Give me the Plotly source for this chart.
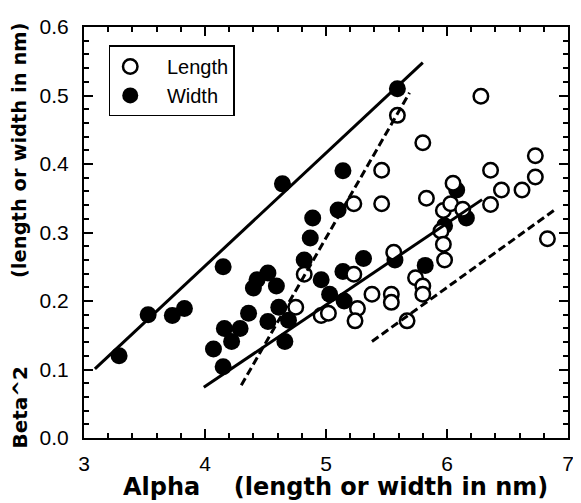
import plotly.graph_objects as go

# Width (filled circles)
width_x = [3.29, 3.53, 3.73, 3.83, 4.07, 4.15, 4.15, 4.16, 4.22, 4.29, 4.36, 4.40,
           4.43, 4.52, 4.59, 4.52, 4.61, 4.69, 4.66, 4.64, 4.82, 4.87, 4.89, 4.96,
           5.03, 5.10, 5.14, 5.14, 5.15, 5.31, 5.57, 5.59, 5.82, 5.98, 6.08, 6.16]
width_y = [0.120, 0.180, 0.179, 0.189, 0.130, 0.104, 0.250, 0.160, 0.141, 0.160, 0.182, 0.219,
           0.231, 0.241, 0.222, 0.170, 0.191, 0.172, 0.141, 0.371, 0.260, 0.292, 0.321, 0.231,
           0.210, 0.333, 0.390, 0.243, 0.200, 0.262, 0.260, 0.510, 0.252, 0.310, 0.362, 0.321]

# Length (open circles)
length_x = [4.75, 4.82, 4.96, 5.02, 5.23, 5.26, 5.24, 5.23, 5.38, 5.46, 5.46, 5.54,
            5.54, 5.56, 5.59, 5.67, 5.74, 5.80, 5.80, 5.80, 5.83, 5.95, 5.97, 5.98,
            5.97, 6.03, 6.05, 6.13, 6.28, 6.36, 6.36, 6.45, 6.62, 6.73, 6.73, 6.83]
length_y = [0.191, 0.239, 0.179, 0.182, 0.239, 0.189, 0.171, 0.342, 0.210, 0.391, 0.342, 0.210,
            0.198, 0.271, 0.471, 0.171, 0.234, 0.222, 0.210, 0.431, 0.350, 0.302, 0.283, 0.260,
            0.332, 0.342, 0.372, 0.334, 0.499, 0.391, 0.341, 0.362, 0.362, 0.412, 0.381, 0.291]

# Fitted lines (endpoints)
width_fit_x = [3.09, 5.80]
width_fit_y = [0.101, 0.548]
length_fit_x = [3.99, 6.29]
length_fit_y = [0.074, 0.348]
steep_dash_x = [4.30, 5.69]
steep_dash_y = [0.077, 0.504]
low_dash_x = [5.38, 6.89]
low_dash_y = [0.141, 0.333]

# Axes
x_range = [3, 7]
y_range = [0, 0.6]
x_tickvals = [3, 4, 5, 6, 7]
x_ticktext = ["3", "4", "5", "6", "7"]
y_tickvals = [0.0, 0.1, 0.2, 0.3, 0.4, 0.5, 0.6]
y_ticktext = ["0.0", "0.1", "0.2", "0.3", "0.4", "0.5", "0.6"]
x_minor_step = 0.2
y_minor_step = 0.02

# Text
x_title = "Alpha\u00a0\u00a0\u00a0 (length or width in nm)"
y_title_top = "(length or width in nm)"
y_title_bottom = "Beta^2"

TICKFONT = "Liberation Sans, Arial, Helvetica, sans-serif"
TITLEFONT = "DejaVu Sans, Liberation Sans, sans-serif"

PL, PR, PT, PB = 84, 573, 15, 438
PW, PH = PR - PL, PB - PT
FIG_W, FIG_H = 573, 495


def px(xp):
    return (xp - PL) / PW


def py(yp):
    return 1 - (yp - PT) / PH


def tick_positions(lo, hi, step):
    n = int(round((hi - lo) / step))
    return [round(lo + i * step, 6) for i in range(n + 1)]


fig = go.Figure()
fig.add_trace(go.Scatter(x=width_x, y=width_y, mode="markers", name="\u00a0\u00a0\u00a0Width",
                         marker=dict(symbol="circle", size=17, color="black",
                                     line=dict(color="black", width=0))))
fig.add_trace(go.Scatter(x=length_x, y=length_y, mode="markers", name="\u00a0\u00a0\u00a0Length",
                         marker=dict(symbol="circle", size=14.5, color="white",
                                     line=dict(color="black", width=2.5))))
line_style = dict(color="black", width=3)
dash_style = dict(color="black", width=3, dash="8px,4px")
fig.add_trace(go.Scatter(x=width_fit_x, y=width_fit_y, mode="lines", showlegend=False, line=line_style))
fig.add_trace(go.Scatter(x=length_fit_x, y=length_fit_y, mode="lines", showlegend=False, line=line_style))
fig.add_trace(go.Scatter(x=steep_dash_x, y=steep_dash_y, mode="lines", showlegend=False, line=dash_style))
fig.add_trace(go.Scatter(x=low_dash_x, y=low_dash_y, mode="lines", showlegend=False, line=dash_style))

tickfont = dict(family=TICKFONT, size=21, color="black")
common = dict(showline=True, linecolor="black", linewidth=2, mirror="allticks",
              ticks="inside", ticklen=9, tickwidth=2, tickcolor="black",
              showgrid=False, zeroline=False, ticklabeloverflow="allow", tickfont=tickfont)
fig.update_xaxes(range=x_range, tickmode="array", tickvals=x_tickvals, ticktext=x_ticktext,
                 ticklabelstandoff=6,
                 minor=dict(tickmode="array", tickvals=tick_positions(x_range[0], x_range[1], x_minor_step),
                            ticks="inside", ticklen=5, tickwidth=1.5, tickcolor="black"),
                 **common)
fig.update_yaxes(range=y_range, tickmode="array", tickvals=y_tickvals, ticktext=y_ticktext,
                 ticklabelstandoff=9,
                 minor=dict(tickmode="array", tickvals=tick_positions(y_range[0], y_range[1], y_minor_step),
                            ticks="inside", ticklen=5, tickwidth=1.5, tickcolor="black"),
                 **common)

fig.add_annotation(text="<b>" + x_title + "</b>", xref="paper", yref="paper",
                   x=px(338), y=py(488), xanchor="center", yanchor="middle", showarrow=False,
                   font=dict(family=TITLEFONT, size=24, color="black"))
fig.add_annotation(text="<b>" + y_title_top + "</b>", textangle=-90,
                   xref="paper", yref="paper", x=px(19), y=py(142),
                   xanchor="center", yanchor="middle", showarrow=False,
                   font=dict(family=TITLEFONT, size=19.5, color="black"))
fig.add_annotation(text="<b>" + y_title_bottom + "</b>", textangle=-90,
                   xref="paper", yref="paper", x=px(19), y=py(406),
                   xanchor="center", yanchor="middle", showarrow=False,
                   font=dict(family=TITLEFONT, size=20, color="black"))

fig.update_layout(
    width=FIG_W, height=FIG_H,
    margin=dict(l=PL - 8, r=FIG_W - (PR - 8), t=PT - 8, b=FIG_H - (PB - 8)),
    plot_bgcolor="white", paper_bgcolor="white",
    legend=dict(x=px(109), y=py(34), xanchor="left", yanchor="top",
                bordercolor="black", borderwidth=1.5, bgcolor="white",
                traceorder="reversed", itemwidth=30,
                font=dict(family=TICKFONT, size=20, color="black")),
)

fig.write_html("out.html")
